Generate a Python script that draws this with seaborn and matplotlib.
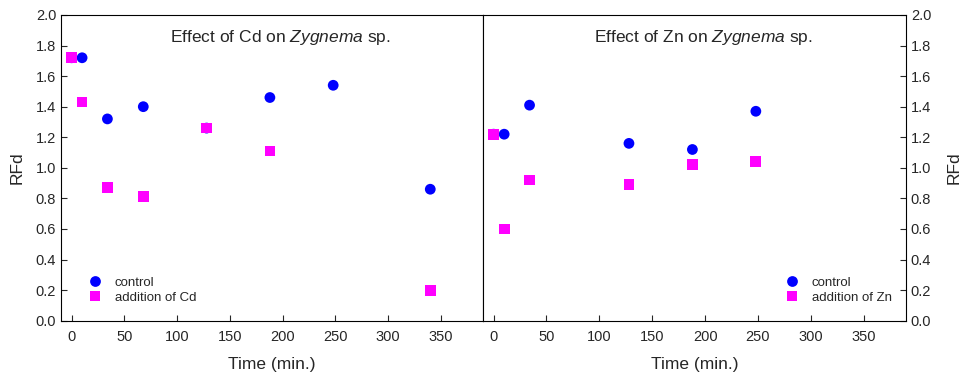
import numpy as np
import pandas as pd
import matplotlib
matplotlib.use("Agg")
import matplotlib.pyplot as plt
import seaborn as sns

# Cd panel
cd_time_ctrl = [0, 10, 34, 68, 128, 188, 248, 340]
cd_rfd_ctrl = [1.72, 1.72, 1.32, 1.40, 1.26, 1.46, 1.54, 0.86]
cd_time_trt = [0, 10, 34, 68, 128, 188, 340]
cd_rfd_trt = [1.72, 1.43, 0.87, 0.81, 1.26, 1.11, 0.20]

# Zn panel
zn_time_ctrl = [0, 10, 34, 128, 188, 248]
zn_rfd_ctrl = [1.22, 1.22, 1.41, 1.16, 1.12, 1.37]
zn_time_trt = [0, 10, 34, 128, 188, 248]
zn_rfd_trt = [1.22, 0.60, 0.92, 0.89, 1.02, 1.04]

sns.set_style("ticks")
plt.rcParams['font.family'] = ['Liberation Sans', 'DejaVu Sans']
plt.rcParams['mathtext.fontset'] = 'custom'
plt.rcParams['mathtext.rm'] = 'Liberation Sans'
plt.rcParams['mathtext.it'] = 'Liberation Sans:italic'

def make_df(t_c, r_c, t_t, r_t, label):
    a = pd.DataFrame({"time": t_c, "rfd": r_c, "group": "control"})
    b = pd.DataFrame({"time": t_t, "rfd": r_t, "group": label})
    return pd.concat([a, b], ignore_index=True)

df_cd = make_df(cd_time_ctrl, cd_rfd_ctrl, cd_time_trt, cd_rfd_trt, "addition of Cd")
df_zn = make_df(zn_time_ctrl, zn_rfd_ctrl, zn_time_trt, zn_rfd_trt, "addition of Zn")

fig = plt.figure(figsize=(9.62, 3.74), dpi=100)
ax1 = fig.add_axes([0.0634, 0.1425, 0.4387, 0.8175])
ax2 = fig.add_axes([0.5021, 0.1425, 0.4397, 0.8175])

panels = [
    (ax1, df_cd, "addition of Cd", "Effect of Cd on $\\it{Zygnema}$ sp.", "lower left", (0.03, 0.03)),
    (ax2, df_zn, "addition of Zn", "Effect of Zn on $\\it{Zygnema}$ sp.", "lower right", (0.985, 0.03)),
]

for ax, df, lab, title, loc, anchor in panels:
    pal = {"control": "#0000ff", lab: "#ff00ff"}
    mk = {"control": "o", lab: "s"}
    sns.scatterplot(data=df, x="time", y="rfd", hue="group", style="group",
                    palette=pal, markers=mk, s=60, linewidth=0, ax=ax,
                    legend=True)
    ax.set_xlim(-10, 390)
    ax.set_ylim(0, 2.0)
    ax.set_xticks(np.arange(0, 351, 50))
    ax.set_yticks(np.arange(0, 2.01, 0.2))
    ax.set_yticklabels([f"{v:.1f}" for v in np.arange(0, 2.01, 0.2)])
    ax.tick_params(direction="in", length=4, labelsize=10.5, width=0.8)
    ax.tick_params(axis="x", pad=7)
    ax.set_xlabel("Time (min.)", fontsize=12.5, labelpad=9)
    ax.set_ylabel("RFd", fontsize=12.5, labelpad=8)
    for sp in ax.spines.values():
        sp.set_visible(True)
        sp.set_color("black")
        sp.set_linewidth(0.8)
    ax.text(0.52, 0.925, title, transform=ax.transAxes, ha="center",
            va="center", fontsize=12.5)
    h, l = ax.get_legend_handles_labels()
    ax.legend(h, l, loc=loc, bbox_to_anchor=anchor, frameon=False,
              fontsize=9.5, handletextpad=0.5, labelspacing=0.2,
              borderaxespad=0.2)

ax2.yaxis.tick_right()
ax2.yaxis.set_label_position("right")
ax2.set_ylabel("RFd", fontsize=12.5, labelpad=11)

fig.savefig("out.png", dpi=100)
